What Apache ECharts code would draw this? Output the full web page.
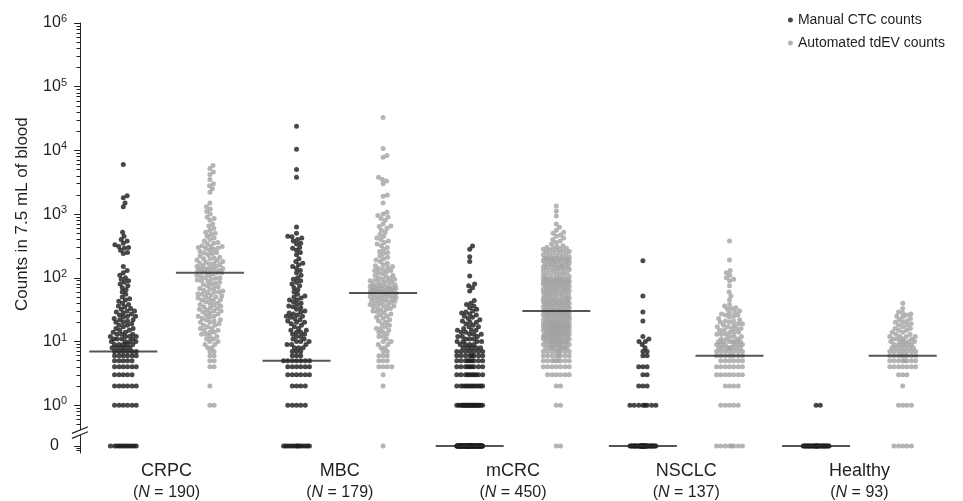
<!DOCTYPE html>
<html>
<head>
<meta charset="utf-8">
<script src="https://cdn.jsdelivr.net/npm/echarts@6.0.0/dist/echarts.min.js"></script>
<style>
  html, body { margin: 0; padding: 0; background: #fff; }
  #chart { width: 963px; height: 501px; }
</style>
</head>
<body>
<div id="chart"></div>
<script>
// Categories and medians
const categories = ['CRPC', 'MBC', 'mCRC', 'NSCLC', 'Healthy'];
const sampleSizes = [190, 179, 450, 137, 93];
const manualMedians = [7, 5, 0, 0, 0];
const automatedMedians = [120, 58, 30, 6, 6];
const yTickLabels = ['0', '10^0', '10^1', '10^2', '10^3', '10^4', '10^5', '10^6'];

// Each column: stacked rows of identical counts [count, dots] + scattered counts
const crpcManualRows = [[0, 12], [1, 6], [2, 6], [3, 5], [4, 6], [5, 5], [6, 6], [7, 6]];
const crpcManualSpread = [6000, 1950, 1800, 1500, 1300, 520, 450, 400, 380, 350, 330, 310, 300, 290, 270, 250, 240,
  150, 130, 120, 110, 100, 95, 90, 85, 80, 75, 70, 65, 60, 55, 50, 47, 45, 43, 40, 38, 36, 35, 33, 32, 30, 29,
  28, 27, 26, 25, 24, 23, 22, 21, 20, 19, 18, 17, 16, 15, 14, 14, 13, 13, 12, 12, 12, 11, 11, 11, 10, 10, 10, 10,
  9, 9, 9, 9, 8, 8, 8, 8, 8, 18, 20, 22, 25, 16, 15, 13, 11, 9, 12, 30];

const crpcAutoRows = [[1, 2], [2, 1]];
const crpcAutoSpread = [5800, 5200, 4600, 4200, 3500, 3000, 2800, 2500, 2200, 1500, 1300, 1200, 1100, 1000,
  900, 850, 800, 700, 650, 600, 560, 520, 500, 480, 450, 420, 400, 380, 360, 350, 340, 320, 310, 300,
  290, 280, 270, 260, 250, 240, 230, 220, 210, 200, 200, 190, 185, 180, 175, 170, 165, 160, 155, 150, 150,
  145, 140, 140, 135, 130, 130, 125, 125, 120, 120, 120, 295, 245, 205, 170, 140, 128, 310,
  115, 110, 108, 105, 100, 100, 98, 95, 92, 90, 88, 85, 82, 80, 78, 75, 72, 70, 68, 66, 64, 62, 60, 58, 56,
  55, 54, 52, 50, 48, 47, 45, 44, 42, 40, 40, 38, 37, 36, 35, 34, 33, 32, 31, 30, 30, 29, 28, 27, 26, 25, 25,
  24, 23, 22, 22, 21, 20, 20, 19, 18, 18, 17, 16, 16, 15, 15, 14, 14, 13, 13, 12, 12, 11, 11, 10, 10, 9, 9,
  8, 8, 7, 7, 6, 6, 5, 5, 4, 4, 45, 50, 60];

const mbcManualRows = [[0, 14], [1, 5], [2, 4], [3, 6], [4, 6], [5, 7]];
const mbcManualSpread = [24000, 10400, 5000, 3800, 630, 500, 450, 440, 420, 400, 380, 350, 340, 300, 290, 270,
  250, 230, 200, 180, 170, 160, 150, 140, 130, 120, 110, 100, 95, 90, 85, 80, 75, 70, 65, 60, 55, 52, 50, 48,
  45, 42, 40, 38, 36, 34, 32, 30, 29, 28, 27, 26, 25, 24, 23, 22, 21, 20, 19, 18, 17, 16, 15, 15, 14, 14, 13,
  13, 12, 12, 11, 11, 10, 10, 10, 9, 9, 9, 8, 8, 8, 7, 7, 7, 6, 6, 6, 35, 45, 25, 20];

const mbcAutoRows = [[0, 1], [2, 1], [3, 1], [4, 4], [5, 3]];
const mbcAutoSpread = [33000, 10700, 8300, 7800, 3800, 3500, 3300, 3000, 2000, 1900, 1500,
  1070, 1000, 950, 900, 850, 800, 700, 650, 640, 600, 560, 520, 480, 450, 420, 400, 380, 360, 340, 320, 300,
  280, 260, 240, 220, 200, 190, 180, 170, 160, 155, 150, 145, 140, 135, 130, 125, 120, 115, 110, 105, 100,
  98, 95, 92, 90, 88, 85, 82, 80, 78, 76, 75, 74, 72, 70, 69, 68, 67, 66, 65, 64, 63, 62, 61, 60, 60, 59,
  250, 210, 130, 110, 95, 85, 75, 70, 65, 62, 57, 56, 55, 54, 53, 52, 51, 50, 49, 48, 47, 46, 45, 44, 43,
  42, 41, 40, 39, 38, 37, 36, 35, 34, 33, 32, 31, 30, 29, 28, 27, 26, 25, 24, 23, 22, 21, 20, 19, 18, 17,
  16, 15, 14, 13, 12, 11, 10, 9, 8, 7, 6, 6, 6, 16, 14, 12, 10, 9, 8, 7, 52, 44, 36];

const mcrcManualRows = [[0, 120], [1, 22], [2, 12], [3, 10], [4, 9], [5, 9], [6, 8], [7, 7]];
const mcrcManualSpread = [316, 280, 214, 180, 107, 80, 75, 70, 62, 44, 40, 38, 36, 34, 32, 30, 29, 28, 27, 26,
  25, 24, 23, 22, 21, 20, 19, 18, 17, 16, 15, 15, 14, 14, 13, 13, 12, 12, 11, 11, 10, 10, 10, 9, 9, 9, 9,
  8, 8, 8, 8, 8, 20, 17, 15, 13, 12, 11, 10];

const mcrcAutoRows = [[0, 2], [1, 2], [2, 2], [3, 6], [4, 7], [5, 9], [6, 8], [7, 8], [8, 9], [9, 9],
  [10, 9], [11, 9], [12, 9], [13, 9], [14, 8], [15, 8], [16, 8], [17, 8], [18, 8], [19, 8], [20, 8],
  [22, 8], [24, 8], [26, 8], [28, 8], [30, 8]];
const mcrcAutoSpread = [1340, 1120, 930, 700, 620, 560, 520, 500, 470, 450, 420, 400, 380, 360, 340, 320, 310,
  300, 295, 290, 285, 280, 275, 270, 265, 260, 255, 250, 245, 240, 235, 230, 225, 220, 215, 210, 208, 205,
  203, 202, 201, 200, 198, 195, 192, 190, 188, 185, 182, 180, 178, 175, 172, 170, 168, 165, 162, 160, 158,
  155, 152, 150, 148, 145, 142, 140, 138, 135, 132, 130, 128, 125, 122, 120, 118, 115, 112, 110, 108, 105,
  102, 100, 190, 150, 110, 140, 99, 98, 97, 96, 95, 94, 93, 92, 91, 90, 89, 88,
  87, 86, 85, 84, 83, 82, 81, 80, 79, 78, 77, 76, 75, 74, 73, 72, 71, 70, 69, 68, 67, 66, 65, 64, 63, 62, 61,
  60, 59, 58, 57, 56, 55, 54, 53, 52, 51, 50, 95, 85, 75, 65, 55, 88, 68, 62, 82, 54,
  49, 48, 47, 46, 45, 44, 43, 42, 41, 40, 39, 38, 37, 36, 35, 34, 33, 32, 31, 31, 48, 46, 44, 42, 40, 38, 36,
  34, 32, 45, 41, 37, 33, 47, 43, 39, 35, 31, 40, 36];

const nsclcManualRows = [[0, 40], [1, 8], [2, 3], [3, 2], [4, 3]];
const nsclcManualSpread = [185, 52, 29, 21, 12, 11, 10, 10, 8, 7, 7, 6, 6, 9];

const nsclcAutoRows = [[0, 8], [1, 5], [2, 4], [3, 7], [4, 7], [5, 6], [6, 8], [7, 7], [8, 7], [9, 6], [10, 6]];
const nsclcAutoSpread = [380, 190, 130, 120, 110, 100, 95, 90, 75, 60, 52, 38, 36, 34, 32, 30, 28, 26, 25, 24,
  23, 22, 21, 20, 20, 19, 18, 18, 17, 17, 16, 16, 15, 15, 14, 14, 14, 13, 13, 13, 12, 12, 12, 11, 11, 11,
  27, 29, 33, 19, 16, 45, 26, 21];

const healthyManualRows = [[0, 30], [1, 2]];
const healthyManualSpread = [];

const healthyAutoRows = [[0, 5], [1, 4], [2, 1], [3, 3], [4, 7], [5, 8], [6, 9], [7, 7], [8, 6], [9, 5],
  [10, 5], [11, 4], [12, 4]];
const healthyAutoSpread = [40, 33, 29, 27, 25, 24, 22, 21, 20, 20, 19, 18, 18, 17, 16, 16, 15, 15, 14, 14,
  13, 13, 26, 23, 28];

// ---------------------------------------------------------------
const ZERO_POS = -0.64;      // where the "0" row sits below the break
const Y_MIN = -0.75, Y_MAX = 6;
const ink = '#231f20';
const font = 'Liberation Sans, Arial, Helvetica, sans-serif';

function toAxis(v) { return v > 0 ? Math.log10(v) : ZERO_POS; }
function expand(rows, spread) {
    const out = [];
    rows.forEach(([v, n]) => { for (let k = 0; k < n; k++) out.push(v); });
    return out.concat(spread);
}

const columns = [
    { cat: 0, side: -1, kind: 0, values: expand(crpcManualRows, crpcManualSpread) },
    { cat: 0, side: 1, kind: 1, values: expand(crpcAutoRows, crpcAutoSpread) },
    { cat: 1, side: -1, kind: 0, values: expand(mbcManualRows, mbcManualSpread) },
    { cat: 1, side: 1, kind: 1, values: expand(mbcAutoRows, mbcAutoSpread) },
    { cat: 2, side: -1, kind: 0, values: expand(mcrcManualRows, mcrcManualSpread) },
    { cat: 2, side: 1, kind: 1, values: expand(mcrcAutoRows, mcrcAutoSpread) },
    { cat: 3, side: -1, kind: 0, values: expand(nsclcManualRows, nsclcManualSpread) },
    { cat: 3, side: 1, kind: 1, values: expand(nsclcAutoRows, nsclcAutoSpread) },
    { cat: 4, side: -1, kind: 0, values: expand(healthyManualRows, healthyManualSpread) },
    { cat: 4, side: 1, kind: 1, values: expand(healthyAutoRows, healthyAutoSpread) }
];

const majorTicks = [ZERO_POS, 0, 1, 2, 3, 4, 5, 6];
const minorTicks = [];
for (let d = 0; d < 6; d++) {
    for (let k = 2; k <= 9; k++) minorTicks.push(d + Math.log10(k));
}
for (let k = 5; k <= 9; k++) minorTicks.push(Math.log10(k / 10));
minorTicks.push(-0.68, -0.71);

const chart = echarts.init(document.getElementById('chart'));

const option = {
    animation: false,
    grid: { left: 80, right: 17, top: 23, bottom: 46 },
    legend: {
        data: ['Manual CTC counts', 'Automated tdEV counts'],
        orient: 'vertical',
        right: 13,
        top: 8,
        icon: 'circle',
        itemWidth: 5,
        itemHeight: 5,
        itemGap: 9,
        align: 'left',
        textStyle: { fontSize: 14, color: ink, fontFamily: font }
    },
    xAxis: [
        {
            type: 'category',
            data: categories,
            axisLine: { show: false },
            axisTick: { show: false },
            axisLabel: {
                margin: 7,
                interval: 0,
                color: ink,
                fontFamily: font,
                formatter: (value, idx) => '{n|' + value + '}\n{p|(}{i|N}{p| = ' + sampleSizes[idx] + ')}',
                rich: {
                    n: { fontSize: 18, lineHeight: 23, color: ink, fontFamily: font },
                    p: { fontSize: 16, lineHeight: 20, color: ink, fontFamily: font },
                    i: { fontSize: 16, lineHeight: 20, fontStyle: 'italic', color: ink, fontFamily: font }
                }
            }
        },
        { type: 'value', min: 0, max: 5, show: false }
    ],
    yAxis: [
        {
            type: 'value',
            min: Y_MIN,
            max: Y_MAX,
            splitLine: { show: false },
            axisLine: { show: true, lineStyle: { color: ink, width: 1 } },
            axisTick: { show: true, length: 6, customValues: majorTicks, lineStyle: { color: ink } },
            axisLabel: {
                customValues: majorTicks,
                margin: 13,
                formatter: (v) => {
                    const t = yTickLabels[majorTicks.indexOf(v)] || '';
                    if (t.indexOf('^') < 0) return '{z|' + t + '}';
                    const parts = t.split('^');
                    return '{b|' + parts[0] + '}{s|' + parts[1] + '}';
                },
                rich: {
                    b: { fontSize: 16, color: ink, fontFamily: font },
                    s: { fontSize: 11, color: ink, fontFamily: font, padding: [0, 0, 8, 0] },
                    z: { fontSize: 16, color: ink, fontFamily: font, padding: [0, 8, 0, 0] }
                }
            }
        },
        {
            type: 'value',
            min: Y_MIN,
            max: Y_MAX,
            position: 'left',
            splitLine: { show: false },
            axisLine: { show: false },
            axisTick: { show: true, length: 3.5, customValues: minorTicks, lineStyle: { color: ink } },
            axisLabel: { show: false }
        }
    ],
    graphic: [],
    series: [
        { name: 'Manual CTC counts', type: 'scatter', xAxisIndex: 1, yAxisIndex: 0, symbolSize: 5,
          itemStyle: { color: '#1b1b1b' }, data: [], silent: true, z: 3 },
        { name: 'Automated tdEV counts', type: 'scatter', xAxisIndex: 1, yAxisIndex: 0, symbolSize: 5,
          itemStyle: { color: '#a2a2a2' }, data: [], silent: true, z: 3 },
        { name: 'Median', type: 'scatter', xAxisIndex: 1, yAxisIndex: 0, symbol: 'rect', symbolSize: [68, 2],
          itemStyle: { color: '#2a2a2a' }, data: [], silent: true, z: 5 }
    ]
};
chart.setOption(option);

// Beeswarm layout: horizontal pixel offsets so dots don't pile up
function beeswarm(ys, maxHalf, gap) {
    const order = ys.map((y, i) => i).sort((a, b) => ys[b] - ys[a]);
    const cands = [0];
    for (let s = 0.35; s <= maxHalf + 1e-6; s += 0.35) cands.push(s, -s);
    const placed = [];
    const offsets = new Array(ys.length);
    for (const i of order) {
        const y = ys[i];
        const near = placed.filter(p => Math.abs(p.y - y) < gap);
        let best = 0, bestD = -1;
        for (const c of cands) {
            let md = Infinity;
            for (const p of near) {
                const dd = Math.hypot(p.x - c, p.y - y);
                if (dd < md) md = dd;
            }
            if (md >= gap) { best = c; break; }
            if (md > bestD + 1e-9) { bestD = md; best = c; }
        }
        offsets[i] = best;
        placed.push({ x: best, y: y });
    }
    return offsets;
}

const pxPerUnit = chart.convertToPixel({ xAxisIndex: 1 }, 1) - chart.convertToPixel({ xAxisIndex: 1 }, 0);
const sideShift = 0.25;
const manualPts = [], autoPts = [], medianPts = [];

columns.forEach(col => {
    const ys = col.values.map(v => chart.convertToPixel({ yAxisIndex: 0 }, toAxis(v)));
    const offs = beeswarm(ys, 13, 4.2);
    const cx = col.cat + 0.5 + col.side * sideShift;
    col.values.forEach((v, i) => {
        const pt = [cx + offs[i] / pxPerUnit, toAxis(v)];
        (col.kind === 0 ? manualPts : autoPts).push(pt);
    });
});
categories.forEach((c, i) => {
    medianPts.push([i + 0.5 - sideShift, toAxis(manualMedians[i])]);
    medianPts.push([i + 0.5 + sideShift, toAxis(automatedMedians[i])]);
});

// Axis break marks between 10^0 and 0
const ax = chart.convertToPixel({ xAxisIndex: 1 }, 0);
const yb = chart.convertToPixel({ yAxisIndex: 0 }, -0.43);
const topY = chart.convertToPixel({ yAxisIndex: 0 }, 6);
const oneY = chart.convertToPixel({ yAxisIndex: 0 }, 0);

chart.setOption({
    series: [{ data: manualPts }, { data: autoPts }, { data: medianPts }],
    graphic: [
        {
            type: 'text',
            x: 22,
            y: (topY + oneY) / 2,
            rotation: Math.PI / 2,
            style: {
                text: 'Counts in 7.5 mL of blood',
                fontSize: 17,
                fontFamily: font,
                fill: ink,
                align: 'center',
                verticalAlign: 'middle'
            }
        },
        { type: 'rect', z: 100, shape: { x: ax - 2, y: yb - 2.5, width: 4, height: 5 }, style: { fill: '#fff' } },
        { type: 'line', z: 101, shape: { x1: ax - 8, y1: yb + 0.8, x2: ax + 8, y2: yb - 5.8 },
          style: { stroke: ink, lineWidth: 1.2 } },
        { type: 'line', z: 101, shape: { x1: ax - 8, y1: yb + 5.8, x2: ax + 8, y2: yb - 0.8 },
          style: { stroke: ink, lineWidth: 1.2 } }
    ]
});
</script>
</body>
</html>
